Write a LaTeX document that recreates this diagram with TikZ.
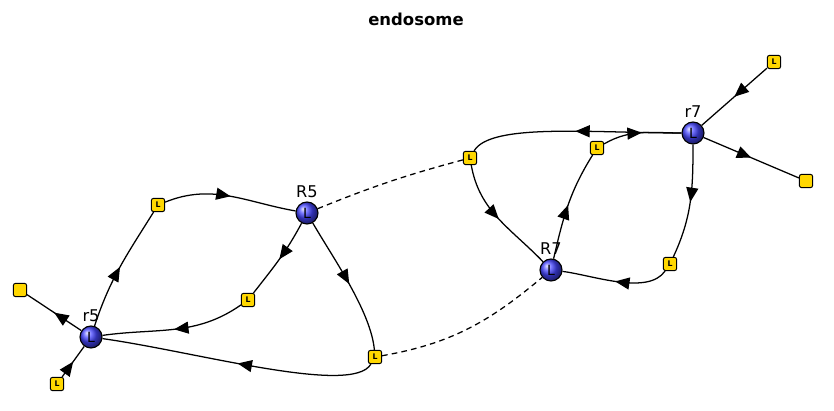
\documentclass[tikz,border=0pt]{standalone}
\usepackage{fontspec}
\setmainfont{DejaVu Sans}
\usetikzlibrary{arrows.meta,decorations.markings}
\definecolor{molyellow}{RGB}{255,215,0}
\definecolor{molblue}{RGB}{70,70,255}
\tikzset{
    complex/.style={circle, draw=black, line width=0.8pt, ball color=molblue,
        minimum size=0.55cm, inner sep=0pt, font=\fontsize{10}{10}\selectfont},
    ligand/.style={rectangle, rounded corners=1.5pt, draw=black, line width=0.7pt,
        fill=molyellow, minimum size=0.33cm, inner sep=0pt,
        font=\fontsize{5.5}{6}\selectfont\bfseries},
    tag/.style={label={[font=\fontsize{11.5}{12}\selectfont, label distance=-1pt]above:#1}},
    midarrow/.style={postaction={decorate}, decoration={markings,
        mark=at position 0.5 with {\arrow{Triangle[length=3.6mm,width=3mm]}}}},
    flux/.style={line width=0.9pt, midarrow},
    link/.style={line width=0.9pt, dash pattern=on 4pt off 3pt},
}
\begin{document}
\begin{tikzpicture}[x=0.025cm,y=0.025cm]
    \useasboundingbox (0,0) rectangle (834,411);
    \node[font=\fontsize{11.7}{12}\selectfont\bfseries] (title) at (416,392) {endosome};

    % receptors
    \node[complex, tag=r5] (r5) at (91,74) {L};
    \node[complex, tag=R5] (R5) at (307,198) {L};
    \node[complex, tag=R7] (R7) at (551,141) {L};
    \node[complex, tag=r7] (r7) at (693,278) {L};

    % ligands
    \foreach \n/\x/\y in {s2/57/27, s3/158/206, s4/248/111, s5/375/54,
        s6/470/253, s7/597/263, s8/670/147, s9/774/349}
    {
        \node[ligand] (\n) at (\x,\y) {L};
    }
    \node[ligand] (s1) at (20,121) {};
    \node[ligand] (s10) at (806,230) {};

    % left cycle
    \draw[flux] (r5) -- (s1);
    \draw[flux] (s2) -- (r5);
    \draw[flux] (r5) to[out=72,in=-122] (s3);
    \draw[flux] (s3) to[out=22,in=170] (R5);
    \draw[flux] (R5) to[out=-118,in=52] (s4);
    \draw[flux] (s4) to[out=-145,in=8] (r5);
    \draw[flux] (R5) to[out=-60,in=95,looseness=0.7] (s5);
    \draw[flux] (s5) to[out=-120,in=-8,out looseness=0.35,in looseness=0.9] (r5);

    % right cycle
    \draw[flux] (r7) to[out=180,in=60,out looseness=1.1,in looseness=0.4] (s6);
    \draw[flux] (s6) to[out=-80,in=134] (R7);
    \draw[flux] (R7) to[out=77,in=-122] (s7);
    \draw[flux] (s7) to[out=30,in=180] (r7);
    \draw[flux] (r7) to[out=-90,in=65] (s8);
    \draw[flux] (s8) to[out=-125,in=-7,looseness=0.75] (R7);
    \draw[flux] (s9) -- (r7);
    \draw[flux] (r7) -- (s10);

    % transport
    \draw[link] (R5) to[out=22,in=-165] (s6);
    \draw[link] (s5) to[out=10,in=-140] (R7);
\end{tikzpicture}
\end{document}
